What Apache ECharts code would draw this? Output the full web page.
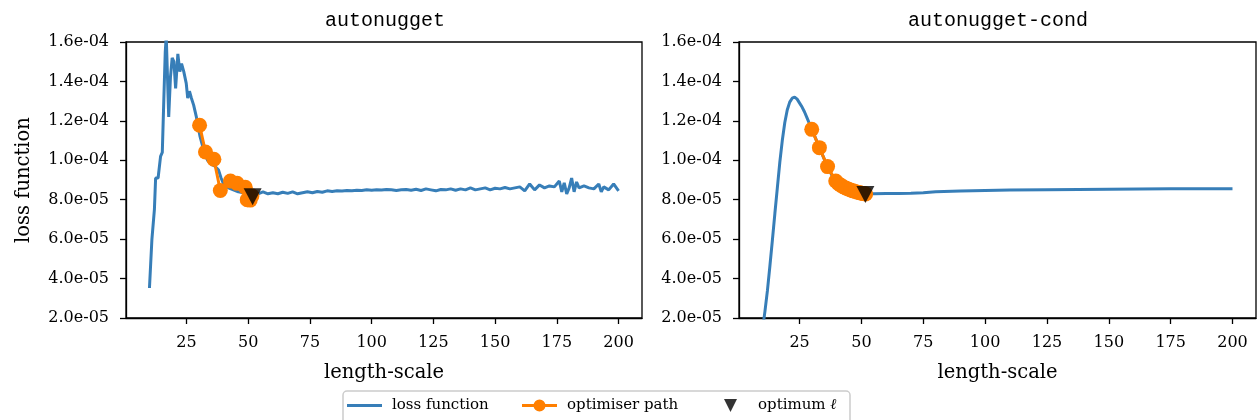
<!DOCTYPE html>
<html>
<head>
<meta charset="utf-8">
<script src="https://cdn.jsdelivr.net/npm/echarts@6/dist/echarts.min.js"></script>
<style>
  html, body { margin: 0; padding: 0; background: #fff; }
  #chart { width: 1257px; height: 420px; }
</style>
</head>
<body>
<div id="chart"></div>
<script>
// ---- data (loss values in units of 1e-5) ----
const titles = ['autonugget', 'autonugget-cond'];
const xTicks = [25, 50, 75, 100, 125, 150, 175, 200];
const yTicks = [2, 4, 6, 8, 10, 12, 14, 16];

const lossLeftX = [10, 11, 12, 12.5, 13.5, 14.5, 15.2, 15.8, 16.4, 16.8, 17.8, 18.5, 19.2, 19.9, 20.6, 21.5, 22.3, 23.0, 23.9, 24.9,
  25.5, 26.2, 27.0, 27.9, 29.0, 30.5, 32, 33.5, 35, 36.5, 38, 39, 40, 42, 44, 46, 48, 50, 52, 54,
  56, 58, 60, 62, 64, 66, 68, 70, 72, 74, 76, 78, 80, 82, 84, 86, 88, 90, 92, 94,
  96, 98, 100, 102, 104, 106, 108, 110, 112, 114, 116, 118, 120, 122, 124, 126, 128, 130, 132, 134,
  136, 138, 140, 142, 144, 146, 148, 150, 152, 154, 156, 158, 160, 162, 164, 166, 168, 170, 172, 174,
  176, 177, 178, 179, 180, 181, 182, 183, 184, 186, 188, 190, 192, 193, 194, 196, 198, 200];
const lossLeftY = [3.52, 6.0, 7.5, 9.1, 9.1, 10.2, 10.4, 13.0, 15.5, 16.3, 12.2, 14.2, 15.2, 15.0, 13.65, 15.4, 14.5, 14.9, 14.5, 13.9,
  13.15, 13.5, 13.15, 12.8, 12.2, 11.2, 10.5, 10.0, 9.8, 9.7, 9.5, 9.1, 8.8, 8.6, 8.5, 8.4, 8.35, 8.3, 8.3, 8.3,
  8.4, 8.3, 8.35, 8.3, 8.38, 8.32, 8.4, 8.3, 8.35, 8.4, 8.35, 8.42, 8.38, 8.45, 8.42, 8.45, 8.44, 8.47, 8.45, 8.48,
  8.47, 8.5, 8.48, 8.5, 8.49, 8.52, 8.5, 8.47, 8.5, 8.52, 8.48, 8.53, 8.47, 8.55, 8.5, 8.45, 8.52, 8.5, 8.55, 8.48,
  8.55, 8.5, 8.6, 8.5, 8.55, 8.6, 8.5, 8.58, 8.55, 8.62, 8.55, 8.6, 8.65, 8.45, 8.8, 8.5, 8.75, 8.6, 8.7, 8.65,
  8.95, 8.4, 8.85, 8.3, 8.6, 9.1, 8.4, 8.9, 8.6, 8.7, 8.6, 8.55, 8.8, 8.4, 8.65, 8.5, 8.8, 8.45];

const pathLeftX = [30.3, 32.7, 36.1, 38.7, 42.8, 45.5, 48.8, 49.6, 50.8, 51.5];
const pathLeftY = [11.78, 10.42, 10.05, 8.47, 8.95, 8.83, 8.63, 8.0, 7.98, 8.2];
const optLeft = [51.8, 8.15];

const lossRightX = [10, 11, 12, 13, 14, 15, 16, 17, 18, 19, 20, 21, 22, 23, 24, 25, 26, 27, 28, 29,
  30, 31, 32, 33, 34, 35, 36, 37, 38, 39, 40, 41, 42, 43, 44, 45, 46, 47, 48, 49,
  50, 51, 52, 55, 60, 65, 70, 75, 80, 90, 100, 110, 125, 150, 175, 200];
const lossRightY = [1.4, 2.35, 3.4, 4.65, 5.95, 7.3, 8.6, 9.9, 11.0, 11.9, 12.55, 12.95, 13.15, 13.2, 13.1, 12.9, 12.7, 12.45, 12.15, 11.85,
  11.55, 11.25, 10.95, 10.65, 10.35, 10.05, 9.75, 9.5, 9.25, 9.05, 8.9, 8.8, 8.72, 8.65, 8.58, 8.52, 8.47, 8.43, 8.39, 8.36,
  8.33, 8.3, 8.3, 8.3, 8.31, 8.32, 8.33, 8.35, 8.4, 8.44, 8.47, 8.49, 8.51, 8.53, 8.55, 8.56];

const pathRightX = [29.9, 33.0, 36.3, 39.6, 40.6, 41.6, 42.6, 43.6, 44.6, 45.6, 46.6, 47.5, 48.4, 49.2, 50.0, 50.7, 51.3, 51.7];
const pathRightY = [11.57, 10.64, 9.68, 8.95, 8.82, 8.74, 8.66, 8.6, 8.54, 8.49, 8.45, 8.42, 8.38, 8.36, 8.33, 8.31, 8.3, 8.29];
const optRight = [51.6, 8.26];

const legendNames = ['loss function', 'optimiser path', 'optimum \u2113'];

// ---- helpers ----
const zip = (xs, ys) => xs.map((x, i) => [x, ys[i]]);
const BLUE = '#377eb8', ORANGE = '#ff7f00';
const SERIF = 'DejaVu Serif';
const fmtY = v => (v * 1e-5).toExponential(1).replace(/e([+-])(\d)$/, 'e$10$2');

const grids = [
  { left: 126, top: 42, width: 516, height: 276 },
  { left: 739, top: 42, width: 517, height: 276 }
];

function xAxis(i) {
  return {
    type: 'value', gridIndex: i, min: 0.5, max: 209.5,
    name: 'length-scale', nameLocation: 'middle', nameGap: 45,
    nameTextStyle: { fontFamily: SERIF, fontSize: 19.5, color: '#000' },
    axisLine: { onZero: false, lineStyle: { color: '#000', width: 1.3 } },
    axisTick: { customValues: xTicks, length: 6, lineStyle: { color: '#000', width: 1.3 } },
    axisLabel: { customValues: xTicks, margin: 17, fontFamily: SERIF, fontSize: 16, color: '#000' },
    splitLine: { show: false }
  };
}
function yAxis(i) {
  return {
    type: 'value', gridIndex: i, min: 2, max: 16, interval: 2,
    name: i === 0 ? 'loss function' : '', nameLocation: 'middle', nameGap: 92,
    nameTextStyle: { fontFamily: SERIF, fontSize: 19.5, color: '#000' },
    axisLine: { onZero: false, lineStyle: { color: '#000', width: 1.3 } },
    axisTick: { length: 6, lineStyle: { color: '#000', width: 1.3 } },
    axisLabel: { margin: 17, fontFamily: SERIF, fontSize: 16, color: '#000', formatter: fmtY },
    splitLine: { show: false }
  };
}

function seriesFor(i, lx, ly, px, py, opt) {
  return [
    { name: legendNames[0], type: 'line', xAxisIndex: i, yAxisIndex: i, data: zip(lx, ly),
      showSymbol: false, symbol: 'none', clip: true, z: 2,
      lineStyle: { color: BLUE, width: 3 }, itemStyle: { color: BLUE } },
    { name: legendNames[1], type: 'line', xAxisIndex: i, yAxisIndex: i, data: zip(px, py),
      symbol: 'circle', symbolSize: 15, showSymbol: true, clip: true, z: 3,
      lineStyle: { color: ORANGE, width: 3 }, itemStyle: { color: ORANGE } },
    { name: legendNames[2], type: 'scatter', xAxisIndex: i, yAxisIndex: i, data: [opt],
      symbol: 'triangle', symbolRotate: 180, symbolSize: [18, 17], z: 4,
      itemStyle: { color: '#000' } }
  ];
}

const legendIcons = [
  'path://M0,0 L35,0 L35,3 L0,3 Z',
  'path://M0,4.5 L35,4.5 L35,7.5 L0,7.5 Z M23.5,6 A6,6 0 1 1 11.5,6 A6,6 0 1 1 23.5,6 Z',
  'path://M0,0 L10,0 L5,10 Z'
];
const legendLefts = [347, 522, 724];
const legends = legendNames.map((n, k) => ({
  left: legendLefts[k], top: 398, padding: 0,
  itemWidth: 35, itemHeight: 13, selectedMode: false,
  textStyle: {
    fontFamily: SERIF, fontSize: 15, color: '#000', padding: [0, 0, 0, 5],
    rich: { it: { fontFamily: SERIF, fontSize: 15, fontStyle: 'italic', color: '#000' } }
  },
  formatter: name => name === legendNames[2] ? 'optimum {it|\u2113}' : name,
  data: [{ name: n, icon: legendIcons[k] }]
}));

const chart = echarts.init(document.getElementById('chart'), null, { renderer: 'canvas' });
chart.setOption({
  animation: false,
  backgroundColor: '#fff',
  title: [
    { text: titles[0], left: 380, top: 6, textAlign: 'center',
      textStyle: { fontFamily: 'Liberation Mono', fontSize: 20, fontWeight: 'normal', color: '#000' } },
    { text: titles[1], left: 993, top: 6, textAlign: 'center',
      textStyle: { fontFamily: 'Liberation Mono', fontSize: 20, fontWeight: 'normal', color: '#000' } }
  ],
  grid: grids.map(g => Object.assign({ show: true, borderColor: '#000', borderWidth: 1.3, backgroundColor: 'transparent' }, g)),
  xAxis: [xAxis(0), xAxis(1)],
  yAxis: [yAxis(0), yAxis(1)],
  legend: legends,
  graphic: [{
    type: 'rect', silent: true, z: 0,
    shape: { x: 343, y: 391, width: 507, height: 40, r: 4 },
    style: { fill: '#fff', stroke: '#cccccc', lineWidth: 1.5 }
  }],
  series: [
    ...seriesFor(0, lossLeftX, lossLeftY, pathLeftX, pathLeftY, optLeft),
    ...seriesFor(1, lossRightX, lossRightY, pathRightX, pathRightY, optRight)
  ]
});
</script>
</body>
</html>
